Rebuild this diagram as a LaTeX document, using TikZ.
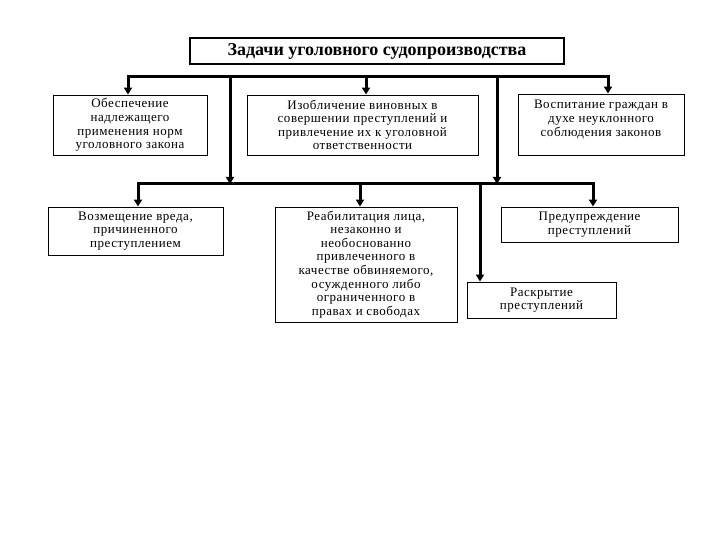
\documentclass[tikz,border=0pt]{standalone}
\usepackage{fontspec}
\setmainfont{Liberation Serif}
\usetikzlibrary{arrows.meta}

\begin{document}
\begin{tikzpicture}[x=1pt,y=-1pt,every node/.style={font=\fontsize{13}{13.6}\selectfont\addfontfeature{LetterSpace=4}},
  taskbox/.style={draw,line width=0.9pt,align=center,inner sep=0pt},
  link/.style={line width=3pt},
  tip/.style={link,-{Triangle[width=8pt,length=7pt]}}]
\useasboundingbox (0,0) rectangle (720,540);
\node[taskbox,line width=1.8pt,minimum width=374,minimum height=26,font=\fontsize{18}{20}\selectfont\bfseries] (title) at (377,51) {Задачи уголовного судопроизводства};
\node[taskbox,minimum width=154,minimum height=60] (ensure) at (130,125) {Обеспечение\\надлежащего\\применения норм\\уголовного закона};
\node[taskbox,minimum width=231,minimum height=60] (expose) at (362.5,125) {Изобличение виновных в\\совершении преступлений и\\привлечение их к уголовной\\ответственности};
\node[taskbox,minimum width=166,minimum height=61] (educate) at (601,124.5) {Воспитание граждан в\\духе неуклонного\\соблюдения законов\\[-1pt]};
\node[taskbox,minimum width=175,minimum height=48] (redress) at (135.5,231) {Возмещение вреда,\\причиненного\\преступлением};
\node[taskbox,minimum width=182,minimum height=115] (rehab) at (366,264.5) {Реабилитация лица,\\незаконно и\\необоснованно\\привлеченного в\\качестве обвиняемого,\\осужденного либо\\ограниченного в\\правах и свободах};
\node[taskbox,minimum width=177,minimum height=35] (prevent) at (589.5,224.5) {Предупреждение\\преступлений};
\node[taskbox,minimum width=149,minimum height=36] (detect) at (541.5,300) {Раскрытие\\преступлений};
\coordinate (tl) at (128,77);
\coordinate (tm) at (366,77);
\coordinate (tr) at (608,77);
\coordinate (ta) at (230,77);
\coordinate (tb) at (497,77);
\coordinate (bl) at (138,184);
\coordinate (bm) at (360,184);
\coordinate (bd) at (480,184);
\coordinate (br) at (593,184);
\draw[link,line cap=rect] (tl) -- (tr);
\draw[tip] (tl) -- (tl |- ensure.north);
\draw[tip] (tm) -- (tm |- expose.north);
\draw[tip] (tr) -- (tr |- educate.north);
\draw[tip] (ta) -- (ta |- bl);
\draw[tip] (tb) -- (tb |- br);
\draw[link,line cap=rect] (bl) -- (br);
\draw[tip] (bl) -- (bl |- redress.north);
\draw[tip] (bm) -- (bm |- rehab.north);
\draw[tip] (br) -- (br |- prevent.north);
\draw[tip] (bd) -- (bd |- detect.north);
\end{tikzpicture}
\end{document}
